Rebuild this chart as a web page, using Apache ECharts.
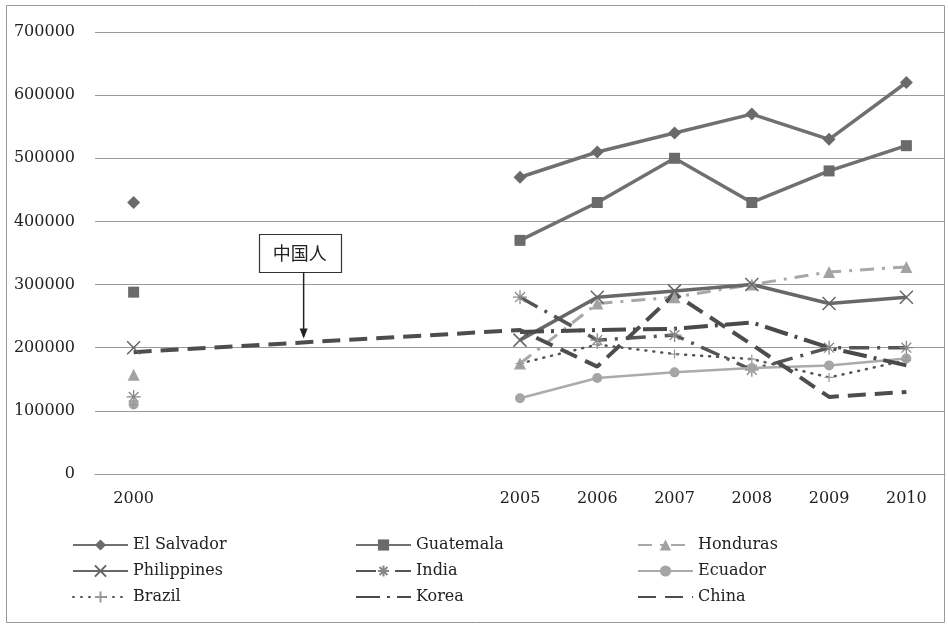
<!DOCTYPE html>
<html>
<head>
<meta charset="utf-8">
<script src="https://cdn.jsdelivr.net/npm/echarts@6/dist/echarts.min.js"></script>
<style>
  html, body { margin: 0; padding: 0; background: #fff; }
  #chart { width: 948px; height: 629px; }
</style>
</head>
<body>
<div id="chart"></div>
<script>
// Years on the category axis (2001-2004 are empty slots, unlabelled)
const years = ['2000', '2001', '2002', '2003', '2004', '2005', '2006', '2007', '2008', '2009', '2010'];
const labelledYears = ['2000', '2005', '2006', '2007', '2008', '2009', '2010'];
const yTicks = [0, 100000, 200000, 300000, 400000, 500000, 600000, 700000];

// Series values per year (null = no data)
const elSalvador  = [430000, null, null, null, null, 470000, 510000, 540000, 570000, 530000, 620000];
const guatemala   = [288000, null, null, null, null, 370000, 430000, 500000, 430000, 480000, 520000];
const honduras    = [157000, null, null, null, null, 175000, 270000, 280000, 300000, 320000, 328000];
const philippines = [200000, null, null, null, null, 212000, 280000, 290000, 300000, 270000, 280000];
const india       = [122000, null, null, null, null, 280000, 212000, 220000, 165000, 200000, 200000];
const ecuador     = [110000, null, null, null, null, 120000, 152000, 161000, 168000, 172000, 183000];
const brazil      = [110000, null, null, null, null, 175000, 205000, 190000, 182000, 153000, 180000];
const korea       = [null,   null, null, null, null, 225000, 228000, 230000, 240000, 200000, 172000];
const china       = [193000, null, null, null, null, 228000, 170000, 285000, 205000, 122000, 130000];

const annotationText = '中国人';

const FONT = 'DejaVu Serif';
const crossPath = 'path://M0,0L10,10M10,0L0,10';
const starPath = 'path://M5,0L5,10M0,5L10,5M1.5,1.5L8.5,8.5M8.5,1.5L1.5,8.5';
const plusPath = 'path://M5,0L5,10M0,5L10,5';

function line(name, data, opts) {
  return Object.assign({
    name: name,
    type: 'line',
    data: data,
    connectNulls: false,
    animation: false,
    symbolSize: 11,
  }, opts);
}

const series = [
  line('El Salvador', elSalvador, {
    symbol: 'diamond', symbolSize: 13,
    itemStyle: { color: '#6a6a6a' },
    lineStyle: { color: '#707070', width: 3.5 }
  }),
  line('Guatemala', guatemala, {
    symbol: 'rect', symbolSize: 11,
    itemStyle: { color: '#6a6a6a' },
    lineStyle: { color: '#707070', width: 3.5 }
  }),
  line('Honduras', honduras, {
    symbol: 'triangle', symbolSize: 12,
    itemStyle: { color: '#a2a2a2' },
    lineStyle: { color: '#a8a8a8', width: 3, type: [14, 8, 3, 8] }
  }),
  line('Philippines', philippines, {
    symbol: crossPath, symbolSize: 13,
    itemStyle: { color: '#666', borderColor: '#666', borderWidth: 1.5 },
    lineStyle: { color: '#686868', width: 3.5 }
  }),
  line('India', india, {
    symbol: starPath, symbolSize: 14,
    itemStyle: { color: '#888', borderColor: '#888', borderWidth: 1.3 },
    lineStyle: { color: '#555', width: 3.5, type: [20, 8, 3, 8] }
  }),
  line('Ecuador', ecuador, {
    symbol: 'circle', symbolSize: 10,
    itemStyle: { color: '#a5a5a5' },
    lineStyle: { color: '#ababab', width: 2.5 }
  }),
  line('Brazil', brazil, {
    symbol: plusPath, symbolSize: 9,
    itemStyle: { color: '#999', borderColor: '#999', borderWidth: 1.2 },
    lineStyle: { color: '#555', width: 2.5, type: [1, 7], cap: 'round' }
  }),
  line('Korea', korea, {
    symbol: 'none',
    itemStyle: { color: '#4a4a4a', opacity: 0 },
    lineStyle: { color: '#4a4a4a', width: 4, type: [24, 7, 3, 7] }
  }),
  line('China', china, {
    symbol: 'none', connectNulls: true,
    itemStyle: { color: '#4d4d4d', opacity: 0 },
    lineStyle: { color: '#4d4d4d', width: 4, type: [18, 9] }
  })
];

function legendColumn(left, names) {
  return {
    orient: 'vertical',
    left: left,
    top: 537,
    padding: 0,
    itemWidth: 55,
    itemHeight: 14,
    itemGap: 10,
    data: names,
    textStyle: { fontFamily: FONT, fontSize: 16, color: '#222' },
    selectedMode: false
  };
}

const chart = echarts.init(document.getElementById('chart'), null, { renderer: 'canvas' });

chart.setOption({
  backgroundColor: '#fff',
  animation: false,
  grid: { left: 95, right: 3, top: 32, bottom: 155 },
  xAxis: {
    type: 'category',
    data: years,
    boundaryGap: true,
    axisLine: { show: true, lineStyle: { color: '#9a9a9a', width: 1 } },
    axisTick: { show: false },
    axisLabel: {
      interval: 0,
      margin: 17,
      fontFamily: FONT, fontSize: 16, color: '#222',
      formatter: v => labelledYears.includes(v) ? v : ''
    }
  },
  yAxis: {
    type: 'value',
    min: yTicks[0],
    max: yTicks[yTicks.length - 1],
    interval: yTicks[1] - yTicks[0],
    axisLine: { show: false },
    axisTick: { show: false },
    axisLabel: {
      margin: 20, fontFamily: FONT, fontSize: 16, color: '#222',
      formatter: v => String(v)
    },
    splitLine: { lineStyle: { color: '#9a9a9a', width: 1 } }
  },
  legend: [
    legendColumn(72, ['El Salvador', 'Philippines', 'Brazil']),
    legendColumn(355, ['Guatemala', 'India', 'Korea']),
    legendColumn(637, ['Honduras', 'Ecuador', 'China'])
  ],
  series: series
});

// Outer frame and the callout box pointing at the China line
const p0 = chart.convertToPixel({ xAxisIndex: 0, yAxisIndex: 0 }, [0, china[0]]);
const p5 = chart.convertToPixel({ xAxisIndex: 0, yAxisIndex: 0 }, [5, china[5]]);
const t = 0.44;
const ax = p0[0] + (p5[0] - p0[0]) * t;
const ay = p0[1] + (p5[1] - p0[1]) * t;
const boxW = 82, boxH = 38;
const boxTop = 234;

chart.setOption({
  graphic: [
    {
      type: 'rect', silent: true,
      shape: { x: 6.5, y: 5.5, width: 938, height: 617 },
      style: { fill: null, stroke: '#9a9a9a', lineWidth: 1 }
    },
    {
      type: 'rect', silent: true,
      shape: { x: Math.round(ax - 45) + 0.5, y: boxTop + 0.5, width: boxW, height: boxH },
      style: { fill: '#fff', stroke: '#333', lineWidth: 1.2 }
    },
    {
      type: 'text', silent: true,
      x: ax - 4, y: boxTop + boxH / 2,
      style: {
        text: annotationText, fill: '#222',
        font: '18px "Noto Sans CJK JP"',
        align: 'center', verticalAlign: 'middle'
      }
    },
    {
      type: 'line', silent: true,
      shape: { x1: ax, y1: boxTop + boxH, x2: ax, y2: ay - 6 },
      style: { stroke: '#222', lineWidth: 1.5 }
    },
    {
      type: 'polygon', silent: true,
      shape: { points: [[ax - 4, ay - 14], [ax + 4, ay - 14], [ax, ay - 4]] },
      style: { fill: '#222' }
    }
  ]
});
</script>
</body>
</html>
